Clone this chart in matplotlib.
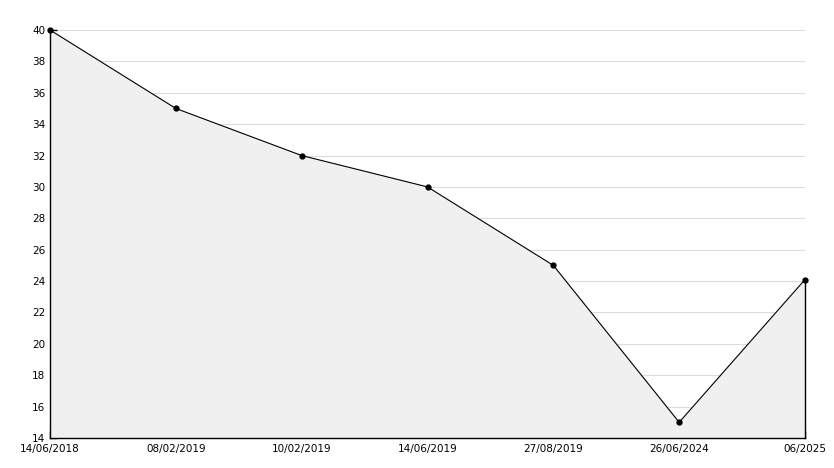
import matplotlib
matplotlib.use("Agg")
import matplotlib.pyplot as plt
import numpy as np

dates = ["14/06/2018", "08/02/2019", "10/02/2019", "14/06/2019",
         "27/08/2019", "26/06/2024", "06/2025"]
values = [40, 35, 32, 30, 25, 15, 24.1]

x = np.arange(len(values))

fig = plt.figure(figsize=(8.34, 4.68), dpi=100)
ax = fig.add_axes([50 / 834, 30 / 468, 755 / 834, 408 / 468])

ax.fill_between(x, values, 14, color="#f0f0f0", zorder=1)
ax.plot([x[-1], x[-1]], [14, values[-1]], color="black", linewidth=1,
        zorder=3, clip_on=False)
ax.plot(x, values, color="black", linewidth=0.8, marker="o", markersize=3.5,
        zorder=4, clip_on=False)

ax.set_xlim(0, len(values) - 1)
ax.set_ylim(14, 40)
ax.set_yticks(np.arange(14, 41, 2))
ax.set_yticks(np.arange(15, 40, 2), minor=True)
ax.set_xticks(x)
ax.set_xticklabels(dates)

ax.grid(axis="y", color="#dcdcdc", linewidth=0.8, zorder=0)
ax.set_axisbelow(True)

for s in ["top", "right"]:
    ax.spines[s].set_visible(False)
ax.spines["left"].set_linewidth(1)
ax.spines["bottom"].set_linewidth(1)

ax.tick_params(axis="both", direction="in", length=5, width=1, labelsize=7.5)
ax.tick_params(axis="y", which="minor", direction="in", length=4, width=1)
ax.tick_params(axis="x", pad=4)

plt.savefig("out.png", dpi=100)
